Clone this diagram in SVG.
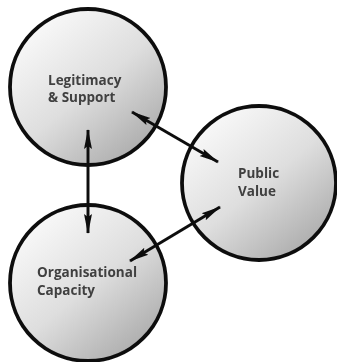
<svg xmlns="http://www.w3.org/2000/svg" width="337" height="362" viewBox="0 0 337 362">
  <defs>
    <linearGradient id="ballFill" x1="0.15" y1="0.1" x2="0.85" y2="0.95">
      <stop offset="0" stop-color="#f9f9f9"/>
      <stop offset="0.5" stop-color="#dedede"/>
      <stop offset="1" stop-color="#a9a9a9"/>
    </linearGradient>
    <marker id="head" viewBox="0 0 20 10" refX="19" refY="5" markerWidth="20" markerHeight="10" markerUnits="userSpaceOnUse" orient="auto-start-reverse">
      <path d="M0,1 L20,5 L0,9 L3,5 Z" fill="#111"/>
    </marker>
    <filter id="soft" x="-5%" y="-5%" width="110%" height="110%">
      <feGaussianBlur stdDeviation="0.5"/>
    </filter>
  </defs>
  <style>
    .ball { fill: url(#ballFill); stroke: #111; stroke-width: 3.8; filter: url(#soft); }
    .label { font-family: "Open Sans", "Liberation Sans", sans-serif; font-weight: 700; font-size: 13.5px; fill: #3f3f3f; filter: url(#soft); }
    .link { stroke: #111; stroke-width: 3; fill: none; marker-start: url(#head); marker-end: url(#head); }
  </style>
  <rect width="337" height="362" fill="#ffffff"/>

  <g id="legitimacy">
    <circle class="ball" cx="88" cy="87" r="78"/>
    <text class="label" x="48" y="85">Legitimacy</text>
    <text class="label" x="48" y="102">&amp; Support</text>
  </g>

  <g id="public-value">
    <circle class="ball" cx="259" cy="183" r="77"/>
    <text class="label" x="238" y="178">Public</text>
    <text class="label" x="238" y="196">Value</text>
  </g>

  <g id="capacity">
    <circle class="ball" cx="88" cy="283" r="78"/>
    <text class="label" x="37" y="277">Organisational</text>
    <text class="label" x="37" y="295">Capacity</text>
  </g>

  <g id="connectors" filter="url(#soft)">
    <line class="link" x1="88" y1="130" x2="88" y2="233"/>
    <line class="link" x1="132" y1="112" x2="218" y2="162"/>
    <line class="link" x1="130" y1="261" x2="220" y2="207"/>
  </g>
</svg>
